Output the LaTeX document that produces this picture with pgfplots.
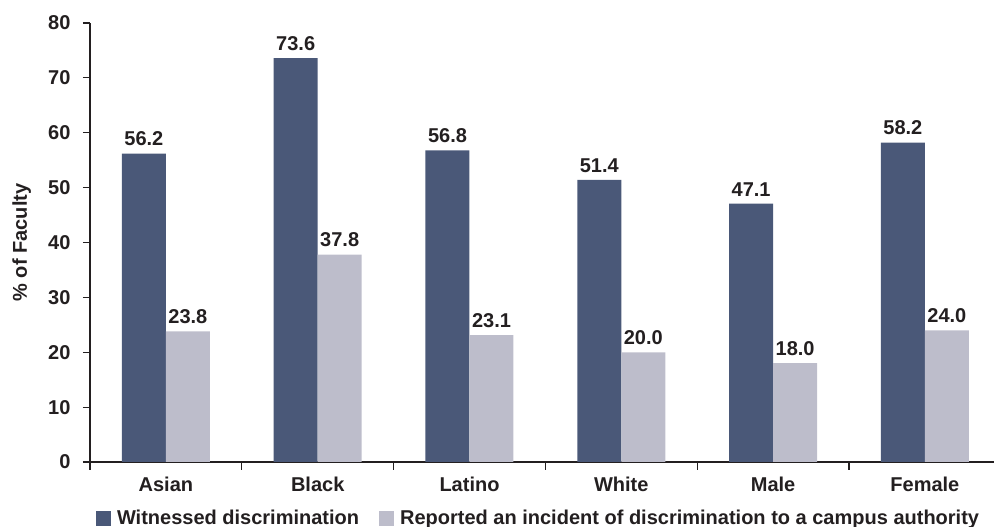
\documentclass[border=0pt]{standalone}
\usepackage{pgfplots}
\pgfplotsset{compat=1.18}
\usepackage{fontspec}
\setmainfont{Liberation Sans}
\definecolor{darkbar}{HTML}{4A5878}
\definecolor{lightbar}{HTML}{BDBDCB}
\definecolor{txt}{HTML}{231F20}
\newcommand\lbl{\fontsize{20pt}{24pt}\selectfont\bfseries}

\begin{document}
\begin{tikzpicture}
\begin{axis}[
  at={(0pt,0pt)}, anchor=south west,
  scale only axis, width=910.8pt, height=439pt,
  xmin=-0.5, xmax=5.5, ymin=0, ymax=80,
  clip=false,
  axis x line=bottom, axis y line=left,
  axis line style={-, draw=txt, line width=1.1pt},
  tick align=outside,
  major tick length=7pt, minor tick length=8pt,
  every tick/.style={draw=txt, line width=1.1pt},
  every major x tick/.append style={draw=none},
  xtick={0,...,5},
  xticklabels={Asian,Black,Latino,White,Male,Female},
  minor xtick={-0.5,0.5,...,5.5},
  ytick={0,10,...,80},
  tick label style={font=\lbl, text=txt},
  xticklabel style={yshift=-4pt},
  yticklabel style={xshift=-9pt},
  /pgf/number format/assume math mode=true,
  ylabel={\% of Faculty},
  ylabel style={font=\lbl, text=txt, at={(axis description cs:-0.075,0.5)}, anchor=center},
  legend columns=2,
  legend cell align=left,
  legend style={draw=none, fill=none, at={(axis description cs:0.0066,-0.1276)}, anchor=west,
    inner sep=0pt, outer sep=0pt, font=\lbl, text=txt,
    /tikz/every even column/.append style={column sep=18pt}},
]
\addplot[ybar, bar width=44pt, bar shift=-22pt, fill=darkbar, draw=none,
  nodes near coords={\pgfmathprintnumber[fixed,fixed zerofill,precision=1,assume math mode=true]{\pgfplotspointmeta}},
  nodes near coords style={font=\lbl, text=txt, xshift=-22pt, yshift=4pt},
  legend image code/.code={\fill[darkbar] (0pt,-7.5pt) rectangle (15pt,7.5pt); \path (19pt,0pt);}]
  coordinates {(0,56.2) (1,73.6) (2,56.8) (3,51.4) (4,47.1) (5,58.2)};
\addlegendentry{Witnessed discrimination}
\addplot[ybar, bar width=44pt, bar shift=22pt, fill=lightbar, draw=none,
  nodes near coords={\pgfmathprintnumber[fixed,fixed zerofill,precision=1,assume math mode=true]{\pgfplotspointmeta}},
  nodes near coords style={font=\lbl, text=txt, xshift=22pt, yshift=4pt},
  legend image code/.code={\fill[lightbar] (0pt,-7.5pt) rectangle (15pt,7.5pt); \path (19pt,0pt);}]
  coordinates {(0,23.8) (1,37.8) (2,23.1) (3,20.0) (4,18.0) (5,24.0)};
\addlegendentry{Reported an incident of discrimination to a campus authority}
\end{axis}
\pgfresetboundingbox
\path[use as bounding box] (-90pt,-65pt) rectangle (904pt,462pt);
\end{tikzpicture}
\end{document}
